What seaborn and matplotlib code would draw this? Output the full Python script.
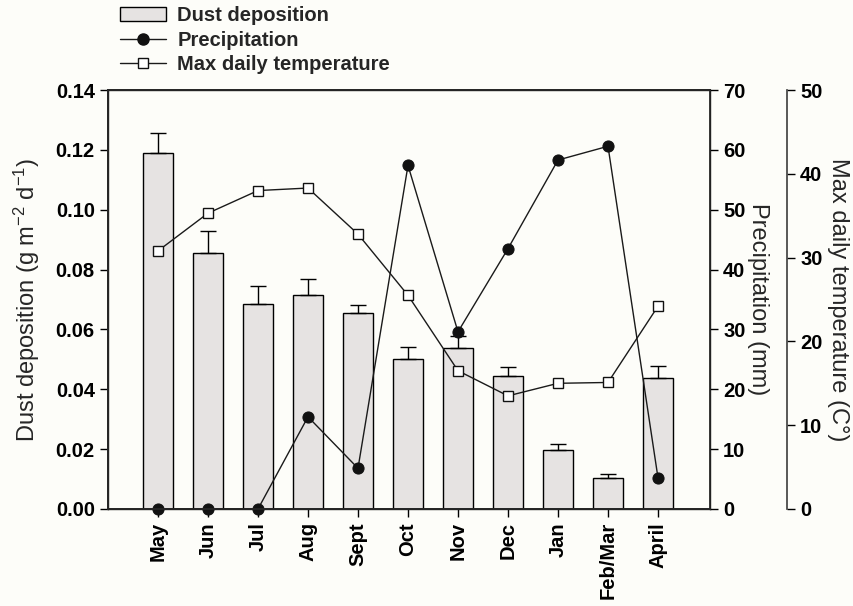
import numpy as np
import pandas as pd
import matplotlib
matplotlib.use("Agg")
import matplotlib.pyplot as plt
import seaborn as sns
from matplotlib.lines import Line2D
from matplotlib.patches import Patch

months = ["May", "Jun", "Jul", "Aug", "Sept", "Oct", "Nov", "Dec", "Jan", "Feb/Mar", "April"]
dust = [0.1188, 0.0854, 0.0685, 0.0714, 0.0654, 0.0500, 0.0537, 0.0444, 0.0197, 0.0103, 0.0437]
dust_err = [0.0067, 0.0076, 0.0060, 0.0053, 0.0028, 0.0042, 0.0040, 0.0030, 0.0020, 0.0015, 0.0040]
precip = [0.0, 0.0, 0.0, 15.4, 6.8, 57.4, 29.6, 43.5, 58.3, 60.6, 5.2]
temp = [30.8, 35.3, 38.0, 38.3, 32.8, 25.5, 16.5, 13.5, 15.0, 15.1, 24.2]

sns.set_theme(style="ticks")
plt.rcParams['font.family'] = ['Liberation Sans', 'DejaVu Sans']
plt.rcParams['mathtext.fontset'] = 'custom'
plt.rcParams['mathtext.rm'] = 'Liberation Sans'
plt.rcParams['mathtext.it'] = 'Liberation Sans'
bg = "#fdfdf9"
plt.rcParams['axes.facecolor'] = bg
plt.rcParams['figure.facecolor'] = bg

TICK_FS = 14.5
LAB_FS = 17

fig = plt.figure(figsize=(8.54, 6.06), dpi=100)
ax = fig.add_axes([108/854, 1-509/606, (710-108)/854, (509-90)/606])

df = pd.DataFrame({"month": months, "dust": dust})
sns.barplot(data=df, x="month", y="dust", color="#e6e3e2", edgecolor="black",
            linewidth=1.0, width=0.61, saturation=1, ax=ax, errorbar=None, zorder=2)
x = np.arange(len(months))
ax.errorbar(x, dust, yerr=[np.zeros(len(dust)), dust_err], fmt="none",
            ecolor="black", elinewidth=1.0, capsize=5.5, capthick=1.0, zorder=3)
ax.set_xlim(-1, 11.04)
ax.set_ylim(0, 0.14)
ax.set_yticks(np.arange(0, 0.141, 0.02))
ax.set_yticklabels([f"{v:.2f}" for v in np.arange(0, 0.141, 0.02)])
ax.set_xticks(x)
ax.set_xticklabels(months, rotation=90)
ax.set_xlabel("")
ax.set_ylabel("Dust deposition (g m$^{\\mathrm{-2}}$ d$^{\\mathrm{-1}}$)", fontsize=LAB_FS, labelpad=10)
for lab in ax.get_xticklabels() + ax.get_yticklabels():
    lab.set_fontweight("bold")
    lab.set_fontsize(TICK_FS)
ax.tick_params(axis="both", direction="out", length=6, width=1, colors="black")
for s in ["top", "right", "left", "bottom"]:
    ax.spines[s].set_visible(True)
    ax.spines[s].set_color("#222222")
    ax.spines[s].set_linewidth(1.0)

# Precipitation axis
ax2 = ax.twinx()
sns.lineplot(x=x, y=precip, ax=ax2, color="#1a1a1a", linewidth=1.0, marker="o",
             markersize=8, markerfacecolor="#111111", markeredgecolor="#111111",
             zorder=4, clip_on=False)
ax2.set_ylim(0, 70)
ax2.set_yticks(np.arange(0, 71, 10))
ax2.set_ylabel("Precipitation (mm)", rotation=270, fontsize=LAB_FS, labelpad=17)
for lab in ax2.get_yticklabels():
    lab.set_fontweight("bold")
    lab.set_fontsize(TICK_FS)
ax2.tick_params(axis="y", direction="out", length=6, width=1, colors="black")
ax2.spines["right"].set_color("#222222")

# Temperature axis
ax3 = ax.twinx()
ax3.spines["right"].set_position(("axes", 1 + 77/602))
ax3.spines["right"].set_color("#444444")
sns.lineplot(x=x, y=temp, ax=ax3, color="#1a1a1a", linewidth=1.0, marker="s",
             markersize=6.8, markerfacecolor="white", markeredgecolor="#111111",
             markeredgewidth=1.0, zorder=4, clip_on=False)
ax3.set_ylim(0, 50)
ax3.set_yticks(np.arange(0, 51, 10))
ax3.set_ylabel("Max daily temperature (C°)", rotation=270, fontsize=LAB_FS, labelpad=19)
for lab in ax3.get_yticklabels():
    lab.set_fontweight("bold")
    lab.set_fontsize(TICK_FS)
ax3.tick_params(axis="y", direction="out", length=6, width=1, colors="black")
for a in (ax2, ax3):
    a.set_xlim(-1, 11.04)
    a.patch.set_visible(False)

handles = [
    Patch(facecolor="#e6e3e2", edgecolor="black", linewidth=1.0),
    Line2D([], [], color="#1a1a1a", lw=1.0, marker="o", markersize=8,
           markerfacecolor="#111111", markeredgecolor="#111111"),
    Line2D([], [], color="#1a1a1a", lw=1.0, marker="s", markersize=6.8,
           markerfacecolor="white", markeredgecolor="#111111"),
]
labels = ["Dust deposition", "Precipitation", "Max daily temperature"]
leg = fig.legend(handles, labels, loc="upper left", bbox_to_anchor=(116/854, 1 - 2/606),
                 frameon=False, prop={"weight": "bold", "size": TICK_FS},
                 handlelength=2.3, handletextpad=0.55, labelspacing=0.28,
                 borderaxespad=0.0, borderpad=0.2)

fig.savefig("out.png", dpi=100, facecolor=bg)
